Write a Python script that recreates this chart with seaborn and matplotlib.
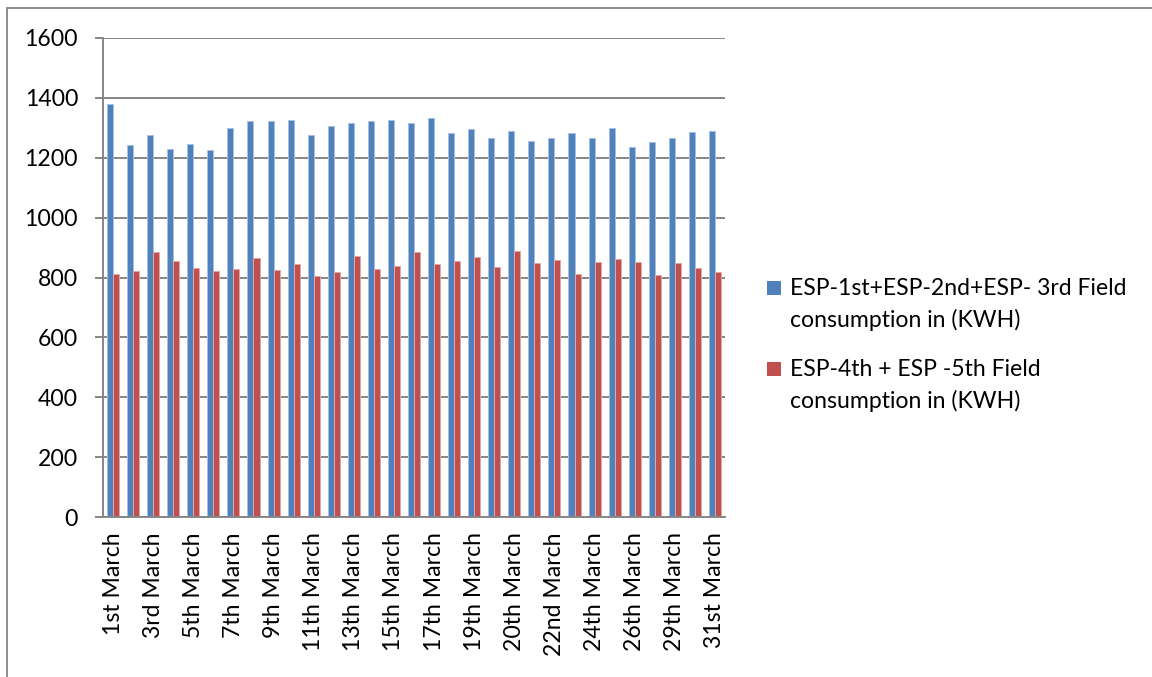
import numpy as np
import pandas as pd
import matplotlib
matplotlib.use("Agg")
import matplotlib.pyplot as plt
import seaborn as sns
from matplotlib.patches import Rectangle

dates = ["1st March", "2nd March", "3rd March", "4th March", "5th March", "6th March",
         "7th March", "8th March", "9th March", "10th March", "11th March", "12th March",
         "13th March", "14th March", "15th March", "16th March", "17th March", "18th March",
         "19th March", "19th March (b)", "20th March", "21st March", "22nd March", "23rd March",
         "24th March", "25th March", "26th March", "27th March", "29th March", "30th March",
         "31st March"]

esp_123 = [1380, 1241, 1275, 1229, 1247, 1226, 1300, 1324, 1322, 1325, 1277, 1307, 1317,
           1322, 1325, 1317, 1334, 1284, 1296, 1266, 1288, 1257, 1265, 1283, 1265, 1300,
           1235, 1254, 1266, 1287, 1291]
esp_45 = [813, 821, 885, 855, 831, 821, 827, 866, 824, 845, 804, 819, 871, 830, 840, 886,
          845, 855, 869, 834, 890, 849, 858, 813, 851, 861, 851, 810, 849, 832, 819]

series_names = ["ESP-1st+ESP-2nd+ESP- 3rd Field\nconsumption in (KWH)",
                "ESP-4th + ESP -5th Field\nconsumption in (KWH)"]
yticks = [0, 200, 400, 600, 800, 1000, 1200, 1400, 1600]

colors = ["#4F81BD", "#C0504D"]
edge_colors = ["#A9C1E0", "#E3A8A6"]
grid_c = "#868686"
FS = 16.6

df = pd.DataFrame({
    "date": dates * 2,
    "value": esp_123 + esp_45,
    "series": [series_names[0]] * len(dates) + [series_names[1]] * len(dates),
})

sns.set_theme(style="white")
plt.rcParams["font.family"] = ["Lato", "DejaVu Sans"]

fig = plt.figure(figsize=(11.52, 6.77), dpi=100)
ax = fig.add_axes([103 / 1152, 1 - 517 / 677, (725 - 103) / 1152, (517 - 38) / 677])

sns.barplot(data=df, x="date", y="value", hue="series", order=dates,
            hue_order=series_names, palette=colors, width=0.6, saturation=1,
            legend=False, ax=ax)

for i, cont in enumerate(ax.containers):
    for bar in cont:
        bar.set_edgecolor(edge_colors[i])
        bar.set_linewidth(0.7)

ax.set_xlim(-0.5, len(dates) - 0.5)
ax.set_ylim(0, 1600)
ax.set_yticks(yticks)
ax.set_yticklabels([str(v) for v in yticks], fontsize=FS, color="black")
ax.set_xticks(range(len(dates)))
ax.set_xticklabels([d if i % 2 == 0 else "" for i, d in enumerate(dates)],
                   rotation=90, fontsize=FS, color="black")
ax.set_xticks(np.arange(-0.5, len(dates), 1.0), minor=True)
ax.tick_params(axis="x", which="major", length=0, pad=11)
ax.tick_params(axis="x", which="minor", length=5, width=1.4, color=grid_c, direction="out")
ax.tick_params(axis="y", which="major", length=6, width=1.4, color=grid_c, direction="out", pad=12, left=True)
ax.set_xlabel("")
ax.set_ylabel("")

ax.yaxis.grid(True, color=grid_c, linewidth=1.4)
ax.xaxis.grid(False)
ax.set_axisbelow(True)
for s in ["top", "right"]:
    ax.spines[s].set_visible(False)
for s in ["left", "bottom"]:
    ax.spines[s].set_color(grid_c)
    ax.spines[s].set_linewidth(1.4)

# legend
W, H = 1152, 677
for k, (top_px, name) in enumerate([(281, series_names[0]), (362, series_names[1])]):
    fig.patches.append(Rectangle((767 / W, 1 - (top_px + 14) / H), 14 / W, 14 / H,
                                 transform=fig.transFigure, facecolor=colors[k],
                                 edgecolor="none"))
    fig.text(790 / W, 1 - (top_px - 3) / H, name, fontsize=FS, va="top", ha="left",
             linespacing=1.55, color="black")

# outer frame
fig.patches.append(Rectangle((7 / W, -0.05), 1.2, 1 - 8 / H + 0.05, transform=fig.transFigure,
                             facecolor="none", edgecolor=grid_c, linewidth=1.3))

fig.savefig("out.png", dpi=100)
